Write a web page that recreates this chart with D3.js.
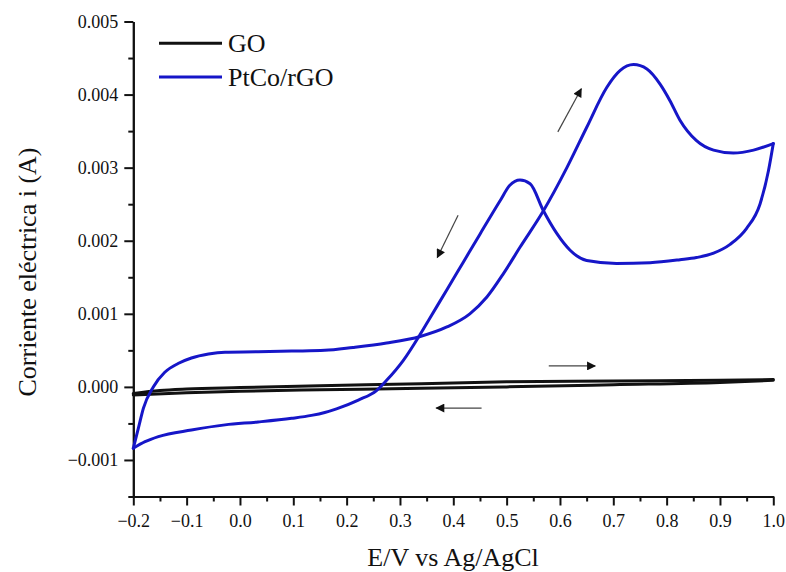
<!DOCTYPE html>
<html>
<head>
<meta charset="utf-8">
<script src="https://cdn.jsdelivr.net/npm/d3@7"></script>
<style>
  html, body { margin: 0; padding: 0; background: #fff; }
  svg { display: block; }
  text { font-family: "Liberation Serif", "Times New Roman", serif; fill: #111; }
</style>
</head>
<body>
<svg id="chart" width="786" height="572"></svg>
<script>
// ---- data ----
const xTicks = [-0.2, -0.1, 0.0, 0.1, 0.2, 0.3, 0.4, 0.5, 0.6, 0.7, 0.8, 0.9, 1.0];
const yTicks = [-0.001, 0.000, 0.001, 0.002, 0.003, 0.004, 0.005];
const seriesNames = ["GO", "PtCo/rGO"];

// GO: forward (anodic) and reverse scans
const goForwardE = [-0.2, -0.15, -0.1, 0.0, 0.15, 0.34, 0.5, 0.7, 0.9, 1.0];
const goForwardI = [-0.00009, -0.00005, -0.00003, -0.00001, 0.000016, 0.000044, 0.00007, 0.00008, 0.00009, 0.0001];
const goReverseE = [1.0, 0.9, 0.7, 0.5, 0.34, 0.15, 0.0, -0.1, -0.2];
const goReverseI = [0.00009, 0.00006, 0.00003, 0.0, -0.00002, -0.00004, -0.00006, -0.00008, -0.00011];

// PtCo/rGO: forward (anodic) scan
const ptForwardE = [-0.2, -0.19, -0.181, -0.1625, -0.141, -0.116, -0.091, -0.059, -0.028, 0.034, 0.097, 0.159,
  0.212, 0.275, 0.338, 0.388, 0.431, 0.463, 0.494, 0.525, 0.569, 0.613, 0.65, 0.688, 0.713, 0.738,
  0.763, 0.788, 0.806, 0.825, 0.856, 0.888, 0.925, 0.963, 1.0];
const ptForwardI = [-0.00084, -0.00055, -0.00029, 0.0, 0.0002, 0.00032, 0.000395, 0.00045, 0.000475, 0.00048, 0.00049, 0.0005,
  0.00054, 0.0006, 0.00069, 0.00082, 0.001, 0.00123, 0.00155, 0.00191, 0.00241, 0.003, 0.00355, 0.0041, 0.00433, 0.00441,
  0.00435, 0.00414, 0.00392, 0.00365, 0.00337, 0.00324, 0.0032, 0.00324, 0.00333];
// PtCo/rGO: reverse (cathodic) scan
const ptReverseE = [1.0, 0.991, 0.975, 0.95, 0.919, 0.888, 0.856, 0.825, 0.769, 0.706, 0.65, 0.619, 0.594, 0.569,
  0.544, 0.525, 0.506, 0.488, 0.45, 0.419, 0.388, 0.356, 0.338, 0.306, 0.275, 0.256, 0.222, 0.181, 0.159,
  0.134, 0.097, 0.034, -0.028, -0.091, -0.153, -0.178, -0.2];
const ptReverseI = [0.00333, 0.00296, 0.0025, 0.00217, 0.00195, 0.00183, 0.00177, 0.00174, 0.0017, 0.00169, 0.00173, 0.00187, 0.0021, 0.00241,
  0.00278, 0.00283, 0.00276, 0.00255, 0.00209, 0.00171, 0.00133, 0.00094, 0.00072, 0.00036, 0.00009, -0.00005, -0.00018, -0.0003, -0.00035,
  -0.00039, -0.00043, -0.00048, -0.00052, -0.00059, -0.00068, -0.00075, -0.00084];

// scan-direction arrows [E1, i1, E2, i2]
const arrowsData = [
  [0.579, 0.000287, 0.666, 0.000287],
  [0.453, -0.00029, 0.368, -0.00029],
  [0.596, 0.00349, 0.640, 0.00408],
  [0.409, 0.00235, 0.370, 0.00177]
];

// ---- layout ----
const svg = d3.select("#chart");
const x = d3.scaleLinear().domain([-0.2, 1.0]).range([133.3, 773.3]);
const y = d3.scaleLinear().domain([-0.0015, 0.005]).range([496.5, 21.5]);
const colors = { "GO": "#111111", "PtCo/rGO": "#1616c8" };

// axes
const xAxis = d3.axisBottom(x).tickValues(xTicks).tickFormat(d3.format(".1f")).tickSize(9).tickSizeOuter(0);
const xMinor = d3.axisBottom(x).tickValues(d3.range(-0.15, 1.0, 0.1)).tickFormat("").tickSize(5).tickSizeOuter(0);
const yAxis = d3.axisLeft(y).tickValues(yTicks).tickFormat(d3.format(".3f")).tickSize(9).tickSizeOuter(0);
const yMinor = d3.axisLeft(y).tickValues([-0.0015, -0.0005, 0.0005, 0.0015, 0.0025, 0.0035, 0.0045]).tickFormat("").tickSize(5).tickSizeOuter(0);

function styleAxis(g) {
  g.attr("font-family", null);
  g.select(".domain").attr("stroke", "#111").attr("stroke-width", 2);
  g.selectAll(".tick line").attr("stroke", "#111").attr("stroke-width", 2);
  g.selectAll(".tick text").style("font-family", "'Liberation Serif', 'Times New Roman', serif")
    .style("font-size", "18px").attr("fill", "#222");
}
svg.append("g").attr("transform", `translate(0,${y(-0.0015)})`).call(xMinor).call(styleAxis);
const gx = svg.append("g").attr("transform", `translate(0,${y(-0.0015)})`).call(xAxis).call(styleAxis);
gx.selectAll(".tick text").attr("dy", "0").attr("y", 30);
svg.append("g").attr("transform", `translate(${x(-0.2)},0)`).call(yMinor).call(styleAxis);
const gy = svg.append("g").attr("transform", `translate(${x(-0.2)},0)`).call(yAxis).call(styleAxis);
gy.selectAll(".tick text").attr("x", -15);

// axis titles
svg.append("text").attr("x", 453).attr("y", 566).attr("text-anchor", "middle")
  .style("font-size", "26px").text("E/V vs Ag/AgCl");
svg.append("text").attr("transform", "translate(36,272) rotate(-90)").attr("text-anchor", "middle")
  .style("font-size", "26px").text("Corriente eléctrica i (A)");

// curves
const line = d3.line().x(d => x(d[0])).y(d => y(d[1])).curve(d3.curveMonotoneX);
const zip = (a, b) => a.map((v, i) => [v, b[i]]);
const plots = svg.append("g");
[[goForwardE, goForwardI, "GO"], [goReverseE, goReverseI, "GO"],
 [ptForwardE, ptForwardI, "PtCo/rGO"], [ptReverseE, ptReverseI, "PtCo/rGO"]].forEach(([e, i, name]) => {
  plots.append("path").datum(zip(e, i)).attr("d", line)
    .attr("fill", "none").attr("stroke", colors[name]).attr("stroke-width", 3)
    .attr("stroke-linejoin", "round").attr("stroke-linecap", "round");
});

// arrows
svg.append("defs").append("marker").attr("id", "head").attr("viewBox", "0 0 10 10")
  .attr("refX", 9).attr("refY", 5).attr("markerWidth", 14).attr("markerHeight", 9)
  .attr("markerUnits", "userSpaceOnUse").attr("orient", "auto")
  .append("path").attr("d", "M0,0 L10,5 L0,10 Z").attr("fill", "#111");
svg.append("g").selectAll("line").data(arrowsData).join("line")
  .attr("x1", d => x(d[0])).attr("y1", d => y(d[1]))
  .attr("x2", d => x(d[2])).attr("y2", d => y(d[3]))
  .attr("stroke", "#444").attr("stroke-width", 1.2).attr("marker-end", "url(#head)");

// legend
const leg = svg.append("g");
seriesNames.forEach((name, k) => {
  const yy = 43.3 + k * 33.7;
  leg.append("line").attr("x1", 159).attr("x2", 222).attr("y1", yy).attr("y2", yy)
    .attr("stroke", colors[name]).attr("stroke-width", 3);
  leg.append("text").attr("x", 228).attr("y", yy + 9).style("font-size", "26px").text(name);
});
</script>
</body>
</html>
